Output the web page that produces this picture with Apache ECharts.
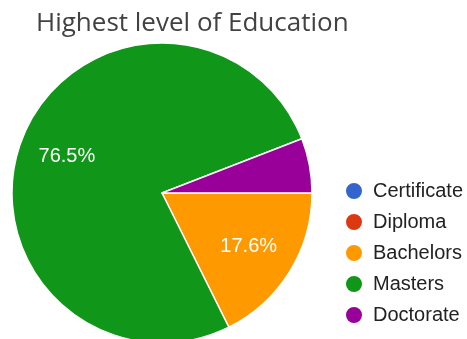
<!DOCTYPE html>
<html>
<head>
<meta charset="utf-8">
<script src="https://cdn.jsdelivr.net/npm/echarts@6/dist/echarts.min.js"></script>
<style>
  html, body { margin: 0; padding: 0; background: #fff; }
  #chart { width: 467px; height: 339px; }
</style>
</head>
<body>
<div id="chart"></div>
<script>
const categories = ['Certificate', 'Diploma', 'Bachelors', 'Masters', 'Doctorate'];
const counts = [0, 0, 3, 13, 1];
const colors = ['#3366cc', '#dc3912', '#ff9900', '#109618', '#990099'];

const pieData = categories.map((name, i) => ({
  name,
  value: counts[i],
  itemStyle: { color: colors[i] }
}));

const chart = echarts.init(document.getElementById('chart'));

chart.setOption({
  animation: false,
  title: {
    text: 'Highest level of Education',
    left: 31,
    top: 6,
    textStyle: {
      fontFamily: 'Open Sans',
      fontSize: 26,
      fontWeight: 'normal',
      color: '#424242'
    }
  },
  legend: {
    orient: 'vertical',
    left: 339,
    top: 176,
    height: 165,
    icon: 'circle',
    itemWidth: 18,
    itemHeight: 18,
    itemGap: 11,
    data: categories,
    textStyle: {
      fontFamily: 'Liberation Sans',
      fontSize: 20,
      color: '#222',
      padding: [0, 0, 0, 5]
    }
  },
  series: [
    {
      type: 'pie',
      center: [162, 193],
      radius: [0, 150],
      startAngle: 0,
      clockwise: true,
      silent: true,
      label: { show: false },
      labelLine: { show: false },
      itemStyle: { borderColor: '#fff', borderWidth: 1.5 },
      data: pieData
    },
    {
      // label-only ring so the percentages sit further out, like the original
      type: 'pie',
      center: [162, 193],
      radius: [48, 150],
      startAngle: 0,
      clockwise: true,
      silent: true,
      percentPrecision: 1,
      itemStyle: { color: 'rgba(0,0,0,0)', borderWidth: 0 },
      label: {
        show: true,
        position: 'inside',
        fontFamily: 'Liberation Sans',
        fontSize: 20,
        color: '#fff',
        formatter: (p) => (p.percent > 10 ? p.percent.toFixed(1) + '%' : '')
      },
      labelLine: { show: false },
      data: categories.map((name, i) => ({ name, value: counts[i] }))
    }
  ]
});
</script>
</body>
</html>
